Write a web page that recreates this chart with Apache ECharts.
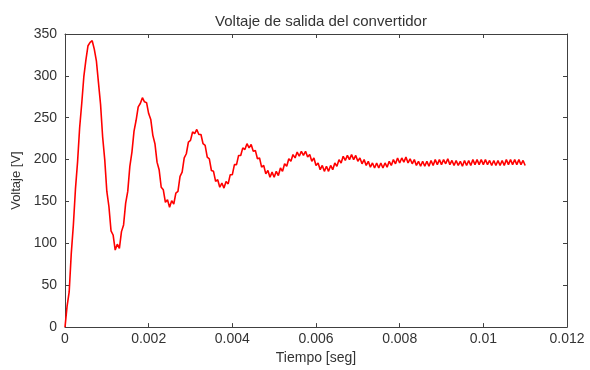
<!DOCTYPE html>
<html>
<head>
<meta charset="utf-8">
<script src="https://cdn.jsdelivr.net/npm/echarts@6/dist/echarts.min.js"></script>
<style>
  html, body {margin: 0; padding: 0; background: #fff;}
  #chart {width: 590px; height: 370px;}
</style>
</head>
<body>
<div id="chart"></div>
<script>
// sample step of the simulation [s]
const dt = 0.00005;

// output voltage [V], one sample every dt (incl. switching ripple)
const voltaje = [
  0, 25, 42, 88, 122, 165, 197, 238, 267, 299, 319, 336, 340, 342, 332, 318, 292, 266, 227, 200,
  162, 144, 115, 110, 92, 99, 94, 114, 122, 148, 162, 192, 209, 234, 247, 263, 267, 274, 269, 268,
  255, 248, 229, 219, 197, 188, 167, 164, 149, 152, 143, 151, 147, 160, 162, 180, 185, 202, 207, 221,
  223, 233, 231, 236, 230, 230, 219, 217, 203, 201, 187, 186, 174, 176, 167, 172, 166, 174, 171, 182,
  182, 194, 194, 205, 205, 214, 212, 219, 214, 218, 210, 211, 201, 202, 191, 193, 183, 187, 179, 185,
  179, 186, 181, 190, 186, 195, 192, 201, 198, 206, 202, 209, 204, 210, 205, 210, 203, 206, 198, 202,
  193, 196, 188, 193, 186, 192, 186, 193, 188, 196, 192, 200, 196, 204, 199, 205, 200, 206, 200, 205,
  198, 202, 195, 200, 193, 198, 191, 196, 190, 196, 190, 196, 190, 196, 191, 198, 193, 200, 195, 202,
  196, 202, 197, 203, 196, 201, 195, 200, 193, 198, 192, 198, 192, 198, 192, 199, 193, 200, 194, 200,
  194, 200, 195, 201, 194, 199, 193, 199, 193, 198, 192, 199, 193, 199, 193, 200, 194, 200, 194, 200,
  194, 200, 194, 199, 193, 199, 193, 199, 193, 199, 193, 200, 194, 200, 194, 200, 194, 200, 194, 199,
  193
];

const xTicks = [0, 0.002, 0.004, 0.006, 0.008, 0.01, 0.012];
const yTicks = [0, 50, 100, 150, 200, 250, 300, 350];

const font = 'Liberation Sans, Arial, sans-serif';
const axisColor = '#404040';
const textColor = '#333333';

function boxAxis(extra){
  return Object.assign({
    type: 'value',
    axisLine: {show: true, onZero: false, lineStyle: {color: axisColor, width: 1}},
    axisTick: {show: true, inside: true, length: 4, lineStyle: {color: axisColor}},
    splitLine: {show: false},
    axisLabel: {show: false}
  }, extra);
}

const chart = echarts.init(document.getElementById('chart'), null, {renderer: 'canvas'});

chart.setOption({
  animation: false,
  backgroundColor: '#fff',
  title: {
    text: 'Voltaje de salida del convertidor',
    left: 316, textAlign: 'center', top: 9,
    textStyle: {fontFamily: font, fontSize: 15, fontWeight: 'normal', color: textColor}
  },
  grid: {left: 65, right: 23, top: 34, bottom: 41},
  xAxis: [
    boxAxis({
      min: xTicks[0], max: xTicks[xTicks.length - 1], interval: 0.002, position: 'bottom',
      name: 'Tiempo [seg]', nameLocation: 'middle', nameGap: 19,
      nameTextStyle: {fontFamily: font, fontSize: 14, color: textColor},
      axisLabel: {show: true, margin: 5, fontFamily: font, fontSize: 14, color: textColor,
        formatter: v => String(+v.toFixed(3))}
    }),
    boxAxis({min: 0, max: 0.012, interval: 0.002, position: 'top'})
  ],
  yAxis: [
    boxAxis({
      min: yTicks[0], max: yTicks[yTicks.length - 1], interval: 50, position: 'left',
      name: 'Voltaje [V]', nameLocation: 'middle', nameGap: 42,
      nameTextStyle: {fontFamily: font, fontSize: 13, color: textColor},
      axisLabel: {show: true, margin: 8, fontFamily: font, fontSize: 14, color: textColor}
    }),
    boxAxis({min: 0, max: 350, interval: 50, position: 'right'})
  ],
  series: [{
    type: 'line',
    xAxisIndex: 0, yAxisIndex: 0,
    showSymbol: false,
    data: voltaje.map((v, i) => [i * dt, v]),
    lineStyle: {color: '#ff0000', width: 1.6},
    itemStyle: {color: '#ff0000'}
  }]
});
</script>
</body>
</html>
